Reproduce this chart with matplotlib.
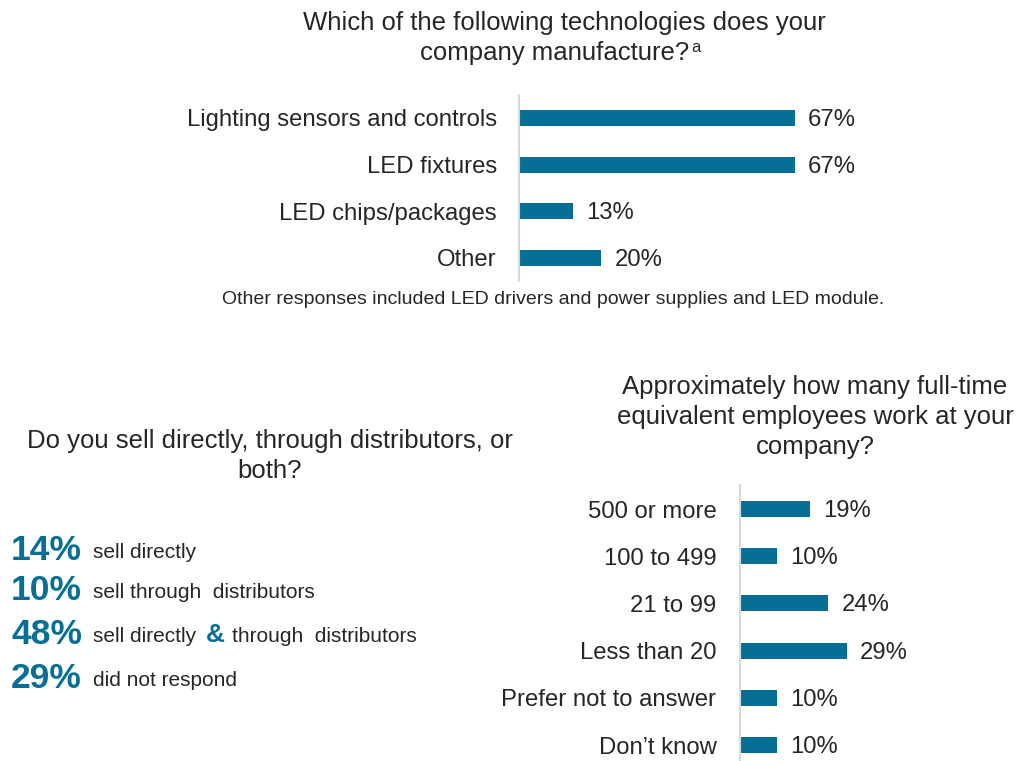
import matplotlib
matplotlib.use("Agg")
import matplotlib.pyplot as plt

plt.rcParams['font.family'] = ['Liberation Sans', 'DejaVu Sans']

BLUE = '#076f96'
DARK = '#262626'
AXIS_GREY = '#d9d9d9'

# survey data
tech_labels = ['Lighting sensors and controls', 'LED fixtures', 'LED chips/packages', 'Other']
tech_values = [67, 67, 13, 20]

size_labels = ['500 or more', '100 to 499', '21 to 99', 'Less than 20',
               'Prefer not to answer', 'Don\u2019t know']
size_values = [19, 10, 24, 29, 10, 10]

channel_pcts = [14, 10, 48, 29]
channel_texts = ['sell directly', 'sell through  distributors',
                 None, 'did not respond']

W, H = 1019, 761
LBL = 17.2
TTL = 18.5
fig = plt.figure(figsize=(W / 100, H / 100), dpi=100)


def px(x, y):
    return x / W, 1 - y / H


def hbar(ax, labels, values, xmax, pad):
    pos = list(range(len(labels)))
    ax.barh(pos, values, height=0.34, color=BLUE)
    ax.set_xlim(0, xmax)
    ax.set_ylim(len(labels) - 0.5, -0.5)
    ax.set_yticks(pos)
    ax.set_yticklabels(labels, fontsize=LBL, color=DARK)
    ax.tick_params(axis='y', length=0, pad=pad)
    ax.set_xticks([])
    for s in ['top', 'right', 'bottom']:
        ax.spines[s].set_visible(False)
    ax.spines['left'].set_color(AXIS_GREY)
    ax.spines['left'].set_linewidth(1.5)
    for p, v in zip(pos, values):
        ax.annotate('{:d}%'.format(v), (v, p), xytext=(9.5, -1.5), textcoords='offset points',
                    va='center', ha='left', fontsize=LBL, color=DARK)
    ax.patch.set_alpha(0)


# top chart
ax1 = fig.add_axes([519 / W, 1 - 281.3 / H, 0.4043, 186.7 / H])
hbar(ax1, tech_labels, tech_values, 0.4043 * W / 4.12, 16)

fig.text(*px(564, 23), 'Which of the following technologies does your',
         ha='center', va='center', fontsize=TTL, color=DARK)
t2 = fig.text(*px(555, 53), 'company manufacture?', ha='center', va='center',
              fontsize=TTL, color=DARK)
ax1.annotate('a', xy=(1, 0.75), xycoords=t2, xytext=(1, 0), textcoords='offset points',
             ha='left', va='center', fontsize=12, color=DARK, annotation_clip=False)
fig.text(*px(553, 299), 'Other responses included LED drivers and power supplies and LED module.',
         ha='center', va='center', fontsize=14, color=DARK)

# bottom right chart
ax2 = fig.add_axes([740 / W, 1 - 768.6 / H, 0.27, 283.2 / H])
hbar(ax2, size_labels, size_values, 0.27 * W / 3.68, 17)

for i, line in enumerate(['Approximately how many full-time',
                          'equivalent employees work at your', 'company?']):
    fig.text(*px(815, 387 + 30 * i), line, ha='center', va='center',
             fontsize=TTL, color=DARK)

# bottom left text block
fig.text(*px(270, 441), 'Do you sell directly, through distributors, or',
         ha='center', va='center', fontsize=TTL, color=DARK)
fig.text(*px(270, 471), 'both?', ha='center', va='center', fontsize=TTL, color=DARK)

rows_y = [550, 591, 635, 678]
for pct, txt, y in zip(channel_pcts, channel_texts, rows_y):
    fig.text(*px(11, y), '{:d}%'.format(pct), ha='left', va='center',
             fontsize=25.5, fontweight='bold', color=BLUE)
    if txt is None:
        fig.text(*px(93, y + 2), 'sell directly', ha='left', va='center', fontsize=15, color=DARK)
        fig.text(*px(206, y), '&', ha='left', va='center', fontsize=19,
                 fontweight='bold', color=BLUE)
        fig.text(*px(232, y + 2), 'through  distributors', ha='left', va='center',
                 fontsize=15, color=DARK)
    else:
        fig.text(*px(93, y + 2), txt, ha='left', va='center', fontsize=15, color=DARK)

fig.savefig('out.png', dpi=100)
